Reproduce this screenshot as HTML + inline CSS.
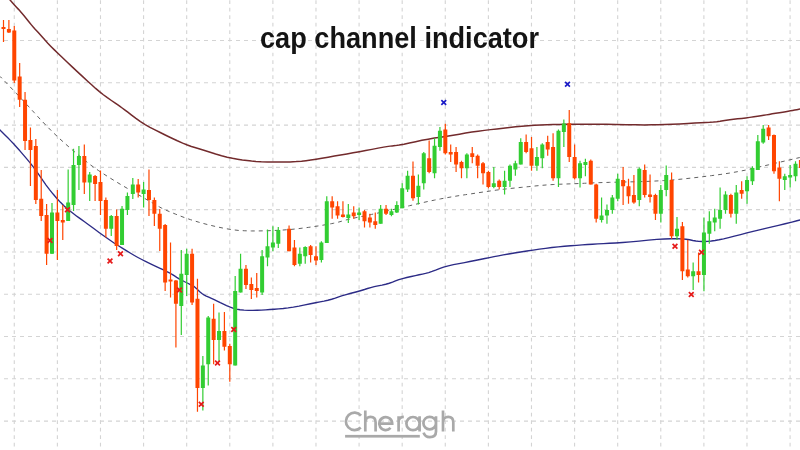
<!DOCTYPE html>
<html><head><meta charset="utf-8"><style>
html,body{margin:0;padding:0;background:#fff;}
body{width:800px;height:450px;overflow:hidden;position:relative;}
svg{position:absolute;left:0;top:0;filter:blur(0.5px);}
</style></head><body>
<svg width="800" height="450" viewBox="0 0 800 450">
<path d="M14.28,0V450M57.38,0V450M100.48,0V450M143.58,0V450M186.68,0V450M229.78,0V450M272.88,0V450M315.98,0V450M359.08,0V450M402.18,0V450M445.28,0V450M488.38,0V450M531.48,0V450M574.58,0V450M617.68,0V450M660.78,0V450M703.88,0V450M746.98,0V450M790.08,0V450" stroke="#d4d4d4" stroke-width="1.1" stroke-dasharray="3.75 3.75" stroke-dashoffset="7.375" fill="none"/>
<path d="M0,40.50H800M0,82.79H800M0,125.08H800M0,167.37H800M0,209.66H800M0,251.95H800M0,294.24H800M0,336.53H800M0,378.82H800M0,421.11H800" stroke="#d4d4d4" stroke-width="1.1" stroke-dasharray="4 4" stroke-dashoffset="4" fill="none"/>
<path d="M-1.00,75.50 L-0.86,75.62 L-0.58,75.88 L-0.16,76.25 L0.41,76.75 L2.31,78.69 L5.56,82.06 L10.16,86.88 L16.09,93.12 L22.11,99.53 L28.20,106.09 L34.38,112.81 L40.62,119.69 L46.88,126.25 L53.12,132.50 L59.38,138.44 L65.62,144.06 L71.88,149.53 L78.12,154.84 L84.38,160.00 L90.62,165.00 L98.81,170.78 L108.94,177.34 L121.00,184.69 L135.00,192.81 L146.06,199.22 L154.19,203.91 L159.38,206.88 L161.62,208.12 L165.11,209.77 L169.83,211.80 L175.78,214.22 L182.97,217.03 L190.62,219.69 L198.75,222.19 L207.34,224.53 L216.41,226.72 L224.69,228.44 L232.19,229.69 L238.91,230.47 L244.84,230.78 L251.41,230.94 L258.59,230.94 L266.41,230.78 L274.84,230.47 L282.73,230.04 L290.08,229.50 L296.88,228.84 L303.12,228.06 L308.75,227.33 L313.75,226.62 L318.12,225.96 L321.88,225.34 L325.31,224.75 L328.44,224.20 L331.25,223.69 L333.75,223.21 L336.25,222.66 L338.75,222.04 L341.25,221.34 L343.75,220.56 L347.34,219.63 L352.03,218.53 L357.81,217.28 L364.69,215.87 L371.41,214.45 L377.97,213.03 L384.38,211.59 L390.62,210.16 L396.88,208.70 L403.12,207.23 L409.38,205.75 L415.62,204.25 L421.88,202.81 L428.12,201.44 L434.38,200.12 L440.62,198.88 L446.88,197.70 L453.12,196.61 L459.38,195.59 L465.62,194.66 L471.88,193.72 L478.12,192.78 L484.38,191.84 L490.62,190.91 L496.88,190.05 L503.12,189.27 L509.38,188.56 L515.62,187.94 L521.88,187.31 L528.12,186.69 L534.38,186.06 L540.62,185.44 L546.88,184.92 L553.12,184.52 L559.38,184.22 L565.62,184.03 L571.88,183.81 L578.12,183.56 L584.38,183.28 L590.62,182.97 L599.06,182.66 L609.69,182.34 L622.50,182.03 L637.50,181.72 L651.09,181.25 L663.28,180.62 L674.06,179.84 L683.44,178.91 L692.81,177.89 L702.19,176.80 L711.56,175.62 L720.94,174.38 L729.69,173.05 L737.81,171.64 L745.31,170.16 L752.19,168.59 L759.81,166.84 L768.19,164.91 L777.31,162.78 L787.19,160.47 L794.59,158.73 L799.53,157.58 L802.00,157.00" stroke="#606060" stroke-width="1" stroke-dasharray="4 4" fill="none"/>
<path d="M7.50,-3.00 L7.66,-2.81 L7.97,-2.44 L8.44,-1.88 L9.06,-1.12 L9.69,-0.39 L10.31,0.33 L10.94,1.03 L11.56,1.72 L12.66,2.92 L14.22,4.64 L16.25,6.88 L18.75,9.62 L21.28,12.52 L23.84,15.55 L26.44,18.72 L29.06,22.03 L31.39,24.89 L33.42,27.30 L35.16,29.25 L36.59,30.75 L38.30,32.59 L40.27,34.76 L42.50,37.28 L45.00,40.12 L47.81,43.17 L50.94,46.42 L54.38,49.87 L58.12,53.53 L62.34,57.58 L67.03,62.02 L72.19,66.88 L77.81,72.12 L82.97,76.91 L87.66,81.22 L91.88,85.06 L95.62,88.44 L99.45,91.67 L103.36,94.76 L107.34,97.70 L111.41,100.50 L114.92,102.93 L117.89,104.99 L120.31,106.69 L122.19,108.01 L124.69,109.85 L127.81,112.20 L131.56,115.06 L135.94,118.44 L140.47,121.61 L145.16,124.58 L150.00,127.34 L155.00,129.91 L160.23,132.53 L165.70,135.22 L171.41,137.97 L177.34,140.78 L182.66,143.14 L187.34,145.05 L191.41,146.50 L194.84,147.50 L198.98,148.75 L203.83,150.25 L209.38,152.00 L215.62,154.00 L221.56,155.72 L227.19,157.16 L232.50,158.31 L237.50,159.19 L242.34,159.94 L247.03,160.56 L251.56,161.06 L255.94,161.44 L261.25,161.72 L267.50,161.91 L274.69,162.00 L282.81,162.00 L290.00,161.88 L296.25,161.62 L301.56,161.25 L305.94,160.75 L310.78,160.09 L316.09,159.28 L321.88,158.31 L328.12,157.19 L334.38,156.08 L340.62,154.98 L346.88,153.91 L353.12,152.84 L359.38,151.73 L365.62,150.58 L371.88,149.38 L378.12,148.12 L383.59,147.12 L388.28,146.38 L392.19,145.88 L395.31,145.62 L399.22,145.08 L403.91,144.23 L409.38,143.09 L415.62,141.66 L421.88,140.34 L428.12,139.16 L434.38,138.09 L440.62,137.16 L446.88,136.19 L453.12,135.19 L459.38,134.16 L465.62,133.09 L471.88,132.11 L478.12,131.20 L484.38,130.38 L490.62,129.62 L496.88,128.89 L503.12,128.18 L509.38,127.49 L515.62,126.81 L521.88,126.23 L528.12,125.74 L534.38,125.35 L540.62,125.05 L546.88,124.80 L553.12,124.60 L559.38,124.45 L565.62,124.35 L571.88,124.28 L578.12,124.23 L584.38,124.20 L590.62,124.20 L597.97,124.25 L606.41,124.35 L615.94,124.50 L626.56,124.70 L636.09,124.82 L644.53,124.88 L651.88,124.85 L658.12,124.75 L664.84,124.56 L672.03,124.29 L679.69,123.92 L687.81,123.47 L694.88,123.09 L700.89,122.76 L705.85,122.50 L709.75,122.30 L713.42,122.02 L716.86,121.66 L720.06,121.21 L723.04,120.69 L726.28,120.19 L729.80,119.71 L733.59,119.26 L737.66,118.84 L741.72,118.38 L745.78,117.89 L749.84,117.38 L753.91,116.82 L757.58,116.30 L760.86,115.80 L763.75,115.32 L766.25,114.88 L769.06,114.39 L772.19,113.86 L775.62,113.30 L779.38,112.70 L782.73,112.16 L785.70,111.67 L788.28,111.24 L790.47,110.86 L792.62,110.47 L794.75,110.08 L796.84,109.66 L798.91,109.24 L800.45,108.92 L801.48,108.71 L802.00,108.60" stroke="#722a2c" stroke-width="1.5" fill="none"/>
<path d="M-2.00,128.00 L-1.88,128.12 L-1.62,128.38 L-1.25,128.75 L-0.75,129.25 L0.41,130.41 L2.22,132.22 L4.69,134.69 L7.81,137.81 L10.78,140.86 L13.59,143.83 L16.25,146.72 L18.75,149.53 L21.41,152.58 L24.22,155.86 L27.19,159.38 L30.31,163.12 L33.44,167.11 L36.56,171.33 L39.69,175.78 L42.81,180.47 L46.09,185.08 L49.53,189.61 L53.12,194.06 L56.88,198.44 L60.47,202.34 L63.91,205.78 L67.19,208.75 L70.31,211.25 L73.28,213.56 L76.09,215.69 L78.75,217.62 L81.25,219.38 L84.53,221.73 L88.59,224.70 L93.44,228.28 L99.06,232.47 L104.38,236.31 L109.38,239.81 L114.06,242.97 L118.44,245.78 L122.66,248.44 L126.72,250.94 L130.62,253.28 L134.38,255.47 L137.94,257.47 L141.31,259.28 L144.50,260.91 L147.50,262.34 L150.56,263.80 L153.69,265.28 L156.88,266.79 L160.12,268.31 L162.95,269.65 L165.36,270.81 L167.34,271.78 L168.91,272.57 L170.62,273.52 L172.50,274.63 L174.53,275.91 L176.72,277.34 L179.14,278.80 L181.80,280.27 L184.69,281.75 L187.81,283.25 L190.38,284.53 L192.38,285.59 L193.81,286.44 L194.69,287.06 L195.75,287.93 L197.00,289.04 L198.44,290.40 L200.06,292.00 L201.91,293.47 L203.97,294.82 L206.25,296.03 L208.75,297.12 L211.41,298.33 L214.22,299.65 L217.19,301.09 L220.31,302.66 L223.44,304.14 L226.56,305.55 L229.69,306.88 L232.81,308.12 L236.25,309.09 L240.00,309.78 L244.06,310.19 L248.44,310.31 L252.78,310.34 L257.09,310.26 L261.38,310.09 L265.62,309.81 L269.94,309.52 L274.31,309.21 L278.75,308.88 L283.25,308.52 L288.12,307.95 L293.38,307.15 L299.00,306.12 L305.00,304.88 L310.50,303.75 L315.50,302.75 L320.00,301.88 L324.00,301.12 L327.88,300.25 L331.62,299.25 L335.25,298.12 L338.75,296.88 L342.38,295.69 L346.12,294.56 L350.00,293.50 L354.00,292.50 L357.75,291.50 L361.25,290.50 L364.50,289.50 L367.50,288.50 L370.75,287.56 L374.25,286.69 L378.00,285.88 L382.00,285.12 L385.75,284.25 L389.25,283.25 L392.50,282.12 L395.50,280.88 L398.88,279.69 L402.62,278.56 L406.75,277.50 L411.25,276.50 L415.38,275.59 L419.12,274.78 L422.50,274.06 L425.50,273.44 L428.69,272.58 L432.06,271.48 L435.62,270.16 L439.38,268.59 L443.59,267.16 L448.28,265.84 L453.44,264.66 L459.06,263.59 L464.53,262.55 L469.84,261.52 L475.00,260.50 L480.00,259.50 L484.84,258.53 L489.53,257.59 L494.06,256.69 L498.44,255.81 L503.28,254.91 L508.59,253.97 L514.38,253.00 L520.62,252.00 L526.88,251.03 L533.12,250.09 L539.38,249.19 L545.62,248.31 L551.88,247.53 L558.12,246.84 L564.38,246.25 L570.62,245.75 L576.56,245.30 L582.19,244.89 L587.50,244.53 L592.50,244.22 L597.81,243.91 L603.44,243.59 L609.38,243.28 L615.62,242.97 L622.66,242.50 L630.47,241.88 L639.06,241.09 L648.44,240.16 L656.88,239.45 L664.38,238.98 L670.94,238.75 L676.56,238.75 L681.56,238.92 L685.94,239.27 L689.69,239.78 L692.81,240.47 L695.88,240.98 L698.88,241.33 L701.81,241.50 L704.69,241.50 L707.84,241.33 L711.28,240.98 L715.00,240.47 L719.00,239.78 L723.56,238.84 L728.69,237.66 L734.38,236.22 L740.62,234.53 L746.88,232.91 L753.12,231.34 L759.38,229.84 L765.62,228.41 L772.00,226.91 L778.50,225.34 L785.12,223.72 L791.88,222.03 L796.94,220.77 L800.31,219.92 L802.00,219.50" stroke="#2c2b86" stroke-width="1.35" fill="none"/>
<path d="M3.50,20.00V42.00M8.89,20.00V33.00M14.28,26.00V83.00M19.66,63.00V107.00M25.05,92.00V150.00M30.44,127.50V186.00M35.83,139.00V204.00M41.22,170.00V221.00M46.60,204.00V265.00M57.38,190.00V260.00M62.77,205.00V240.00M84.32,144.50V194.00M95.10,175.00V201.00M100.48,170.50V215.00M105.87,197.50V237.50M116.65,209.50V250.00M138.20,179.00V197.50M148.98,169.50V216.00M154.36,197.50V226.00M159.75,209.00V251.00M165.14,224.00V291.00M170.53,242.50V297.50M175.92,280.00V347.50M192.08,248.75V305.00M197.47,278.75V411.75M213.63,303.75V364.25M224.41,312.00V350.50M229.80,343.75V381.75M245.96,265.00V289.00M251.35,277.50V299.00M256.74,273.00V297.50M289.06,225.60V251.25M294.45,240.00V266.25M310.62,245.00V262.50M316.00,246.25V265.00M332.17,196.25V218.75M337.56,201.25V218.75M342.94,201.25V217.50M353.72,206.25V218.75M364.50,210.00V227.50M369.88,213.75V227.50M375.27,212.50V228.75M386.05,205.00V215.00M412.99,161.50V200.75M429.15,140.50V173.25M445.32,123.75V154.50M450.70,144.50V162.00M456.09,147.00V172.00M461.48,160.75V178.25M472.26,147.00V163.25M477.64,154.50V178.25M483.03,162.00V184.50M488.42,170.75V188.25M499.20,179.50V189.50M526.14,134.50V153.25M531.52,137.00V170.75M547.69,135.75V155.75M553.08,133.25V180.75M569.24,110.00V162.00M574.63,144.50V179.50M590.79,159.50V184.50M596.18,183.75V222.50M623.12,167.00V205.00M628.51,178.75V203.75M633.90,175.00V203.75M644.67,164.50V197.50M650.06,174.50V202.50M655.45,193.75V220.00M671.61,172.50V238.75M682.39,222.00V280.00M687.78,240.00V277.50M698.55,252.50V282.50M730.88,193.75V217.50M741.66,181.25V198.75M768.60,125.00V140.00M773.98,134.50V173.75M779.37,161.25V201.25M800.92,155.00V172.00" stroke="#ff4500" stroke-width="1.2" fill="none"/>
<path d="M51.99,203.00V254.00M68.16,169.50V221.00M73.54,148.75V211.00M78.93,146.00V190.00M89.71,172.00V201.00M111.26,215.00V236.00M122.04,206.00V245.00M127.42,192.50V215.00M132.81,178.00V199.00M143.59,182.00V207.50M181.30,250.00V335.00M186.69,248.75V296.00M202.86,356.00V410.50M208.24,316.00V385.50M219.02,312.50V361.75M235.18,276.00V365.50M240.57,253.75V292.50M262.12,250.00V295.00M267.51,229.40V266.25M272.90,226.25V251.25M278.29,227.00V248.00M299.84,247.50V266.25M305.23,246.25V263.75M321.39,241.25V262.50M326.78,196.25V243.00M348.33,204.00V223.00M359.11,207.50V220.00M380.66,205.00V223.75M391.44,208.75V216.25M396.82,201.25V213.00M402.21,183.25V208.25M407.60,170.75V192.00M418.38,174.50V204.50M423.76,152.00V189.50M434.54,138.25V178.25M439.93,127.00V150.75M466.87,153.25V178.25M493.81,167.00V188.25M504.58,170.75V194.50M509.97,164.50V187.00M515.36,160.75V175.75M520.75,138.25V164.50M536.91,147.00V170.75M542.30,143.25V168.25M558.46,129.50V187.00M563.85,119.40V147.00M580.02,160.75V187.50M585.40,158.75V176.25M601.57,197.50V222.50M606.96,204.50V223.75M612.34,195.00V213.75M617.73,173.75V201.25M639.28,167.50V206.25M660.84,185.00V222.50M666.22,165.50V196.25M677.00,217.00V240.00M693.16,262.50V290.00M703.94,217.50V291.25M709.33,211.25V243.75M714.72,208.75V231.25M720.10,187.50V228.75M725.49,191.25V213.75M736.27,185.00V223.75M747.04,176.25V203.75M752.43,166.25V185.00M757.82,135.00V170.00M763.21,125.00V143.75M784.76,173.75V190.00M790.15,165.00V187.50M795.54,161.25V181.25" stroke="#32cd32" stroke-width="1.2" fill="none"/>
<path d="M1.50,27.00h4.0V29.00h-4.0zM6.89,29.00h4.0V32.50h-4.0zM12.28,30.60h4.0V80.40h-4.0zM17.66,76.60h4.0V99.75h-4.0zM23.05,99.75h4.0V141.00h-4.0zM28.44,140.00h4.0V150.00h-4.0zM33.83,146.00h4.0V200.00h-4.0zM39.22,198.75h4.0V216.00h-4.0zM44.60,215.00h4.0V253.75h-4.0zM55.38,212.50h4.0V221.00h-4.0zM60.77,220.00h4.0V222.50h-4.0zM82.32,156.00h4.0V182.50h-4.0zM93.10,176.00h4.0V184.00h-4.0zM98.48,182.00h4.0V201.00h-4.0zM103.87,200.00h4.0V228.75h-4.0zM114.65,216.00h4.0V246.00h-4.0zM136.20,184.50h4.0V192.50h-4.0zM146.98,190.00h4.0V200.00h-4.0zM152.36,200.00h4.0V213.75h-4.0zM157.75,213.75h4.0V228.75h-4.0zM163.14,225.00h4.0V282.50h-4.0zM168.53,279.50h4.0V281.50h-4.0zM173.92,280.50h4.0V303.75h-4.0zM190.08,253.75h4.0V302.50h-4.0zM195.47,298.75h4.0V388.00h-4.0zM211.63,318.75h4.0V340.00h-4.0zM222.41,331.00h4.0V346.75h-4.0zM227.80,346.00h4.0V364.25h-4.0zM243.96,268.75h4.0V285.00h-4.0zM249.35,284.00h4.0V290.00h-4.0zM254.74,288.00h4.0V291.00h-4.0zM287.06,228.75h4.0V251.25h-4.0zM292.45,247.50h4.0V265.00h-4.0zM308.62,246.25h4.0V255.00h-4.0zM314.00,256.25h4.0V260.50h-4.0zM330.17,201.25h4.0V207.50h-4.0zM335.56,206.25h4.0V215.60h-4.0zM340.94,214.40h4.0V216.90h-4.0zM351.72,212.50h4.0V216.25h-4.0zM362.50,211.25h4.0V221.25h-4.0zM367.88,217.50h4.0V222.50h-4.0zM373.27,221.25h4.0V225.00h-4.0zM384.05,208.75h4.0V213.75h-4.0zM410.99,175.75h4.0V198.25h-4.0zM427.15,158.25h4.0V172.00h-4.0zM443.32,129.50h4.0V153.25h-4.0zM448.70,152.00h4.0V154.50h-4.0zM454.09,152.00h4.0V164.50h-4.0zM459.48,162.00h4.0V168.25h-4.0zM470.26,153.25h4.0V157.00h-4.0zM475.64,155.75h4.0V165.75h-4.0zM481.03,163.25h4.0V173.25h-4.0zM486.42,172.00h4.0V187.00h-4.0zM497.20,180.75h4.0V187.00h-4.0zM524.14,142.00h4.0V152.00h-4.0zM529.52,148.25h4.0V165.75h-4.0zM545.69,142.00h4.0V149.50h-4.0zM551.08,147.00h4.0V178.25h-4.0zM567.24,123.25h4.0V157.00h-4.0zM572.63,157.00h4.0V178.25h-4.0zM588.79,160.75h4.0V184.50h-4.0zM594.18,184.50h4.0V218.75h-4.0zM621.12,180.00h4.0V186.25h-4.0zM626.51,186.25h4.0V196.25h-4.0zM631.90,195.00h4.0V202.50h-4.0zM642.67,170.00h4.0V195.00h-4.0zM648.06,194.50h4.0V197.00h-4.0zM653.45,195.00h4.0V213.75h-4.0zM669.61,180.00h4.0V236.25h-4.0zM680.39,226.25h4.0V271.25h-4.0zM685.78,269.50h4.0V276.25h-4.0zM696.55,271.25h4.0V275.00h-4.0zM728.88,195.00h4.0V213.75h-4.0zM739.66,190.00h4.0V193.75h-4.0zM766.60,127.50h4.0V136.25h-4.0zM771.98,135.00h4.0V171.25h-4.0zM777.37,167.50h4.0V178.75h-4.0zM798.92,160.00h4.0V168.00h-4.0z" fill="#ff4500"/>
<path d="M49.99,212.50h4.0V253.75h-4.0zM66.16,202.50h4.0V221.00h-4.0zM71.54,165.00h4.0V205.00h-4.0zM76.93,156.00h4.0V165.00h-4.0zM87.71,174.50h4.0V182.50h-4.0zM109.26,216.00h4.0V228.75h-4.0zM120.04,208.75h4.0V245.00h-4.0zM125.42,196.00h4.0V210.00h-4.0zM130.81,184.50h4.0V194.00h-4.0zM141.59,189.50h4.0V194.00h-4.0zM179.30,273.75h4.0V306.00h-4.0zM184.69,253.75h4.0V275.00h-4.0zM200.86,365.50h4.0V388.00h-4.0zM206.24,317.50h4.0V364.25h-4.0zM217.02,331.00h4.0V340.00h-4.0zM233.18,291.00h4.0V365.50h-4.0zM238.57,268.75h4.0V292.50h-4.0zM260.12,256.25h4.0V292.50h-4.0zM265.51,246.25h4.0V257.50h-4.0zM270.90,242.50h4.0V247.50h-4.0zM276.29,230.00h4.0V243.75h-4.0zM297.84,253.75h4.0V263.75h-4.0zM303.23,247.00h4.0V256.25h-4.0zM319.39,242.50h4.0V260.00h-4.0zM324.78,201.25h4.0V243.00h-4.0zM346.33,214.40h4.0V218.00h-4.0zM357.11,212.50h4.0V215.00h-4.0zM378.66,208.75h4.0V223.75h-4.0zM389.44,211.25h4.0V215.00h-4.0zM394.82,205.00h4.0V212.50h-4.0zM400.21,188.25h4.0V208.25h-4.0zM405.60,175.75h4.0V189.50h-4.0zM416.38,185.75h4.0V197.00h-4.0zM421.76,153.25h4.0V183.25h-4.0zM432.54,145.75h4.0V173.25h-4.0zM437.93,130.75h4.0V147.00h-4.0zM464.87,154.50h4.0V168.25h-4.0zM491.81,183.25h4.0V187.00h-4.0zM502.58,180.75h4.0V187.00h-4.0zM507.97,165.75h4.0V180.75h-4.0zM513.36,163.25h4.0V169.50h-4.0zM518.75,142.00h4.0V164.50h-4.0zM534.91,157.00h4.0V165.75h-4.0zM540.30,144.50h4.0V158.25h-4.0zM556.46,130.75h4.0V178.25h-4.0zM561.85,123.50h4.0V132.00h-4.0zM578.02,163.25h4.0V178.25h-4.0zM583.40,162.00h4.0V165.00h-4.0zM599.57,215.50h4.0V220.00h-4.0zM604.96,210.00h4.0V215.50h-4.0zM610.34,197.50h4.0V210.00h-4.0zM615.73,178.75h4.0V198.75h-4.0zM637.28,168.75h4.0V200.00h-4.0zM658.84,190.00h4.0V213.75h-4.0zM664.22,175.00h4.0V190.00h-4.0zM675.00,228.75h4.0V236.25h-4.0zM691.16,271.25h4.0V276.25h-4.0zM701.94,232.50h4.0V275.00h-4.0zM707.33,221.25h4.0V233.75h-4.0zM712.72,217.50h4.0V222.50h-4.0zM718.10,210.00h4.0V218.75h-4.0zM723.49,194.50h4.0V210.00h-4.0zM734.27,192.50h4.0V213.75h-4.0zM745.04,180.00h4.0V191.25h-4.0zM750.43,168.00h4.0V181.25h-4.0zM755.82,141.25h4.0V170.00h-4.0zM761.21,128.75h4.0V142.50h-4.0zM782.76,176.25h4.0V180.00h-4.0zM788.15,175.00h4.0V177.50h-4.0zM793.54,163.75h4.0V176.25h-4.0z" fill="#32cd32"/>
<path d="M65.10,207.40L69.90,212.20M69.90,207.40L65.10,212.20" stroke="#e61a1a" stroke-width="1.7" fill="none"/>
<path d="M47.60,238.10L52.40,242.90M52.40,238.10L47.60,242.90" stroke="#e61a1a" stroke-width="1.7" fill="none"/>
<path d="M107.60,258.60L112.40,263.40M112.40,258.60L107.60,263.40" stroke="#e61a1a" stroke-width="1.7" fill="none"/>
<path d="M118.10,251.35L122.90,256.15M122.90,251.35L118.10,256.15" stroke="#e61a1a" stroke-width="1.7" fill="none"/>
<path d="M177.10,287.60L181.90,292.40M181.90,287.60L177.10,292.40" stroke="#e61a1a" stroke-width="1.7" fill="none"/>
<path d="M198.85,401.85L203.65,406.65M203.65,401.85L198.85,406.65" stroke="#e61a1a" stroke-width="1.7" fill="none"/>
<path d="M215.10,360.60L219.90,365.40M219.90,360.60L215.10,365.40" stroke="#e61a1a" stroke-width="1.7" fill="none"/>
<path d="M231.35,327.10L236.15,331.90M236.15,327.10L231.35,331.90" stroke="#e61a1a" stroke-width="1.7" fill="none"/>
<path d="M672.60,243.85L677.40,248.65M677.40,243.85L672.60,248.65" stroke="#e61a1a" stroke-width="1.7" fill="none"/>
<path d="M699.10,249.80L703.90,254.60M703.90,249.80L699.10,254.60" stroke="#e61a1a" stroke-width="1.7" fill="none"/>
<path d="M688.85,292.10L693.65,296.90M693.65,292.10L688.85,296.90" stroke="#e61a1a" stroke-width="1.7" fill="none"/>
<path d="M441.35,100.10L446.15,104.90M446.15,100.10L441.35,104.90" stroke="#1c1cc8" stroke-width="1.7" fill="none"/>
<path d="M565.10,81.85L569.90,86.65M569.90,81.85L565.10,86.65" stroke="#1c1cc8" stroke-width="1.7" fill="none"/>
<text x="260" y="47.8" textLength="279" lengthAdjust="spacingAndGlyphs" font-family="Liberation Sans, sans-serif" font-weight="bold" font-size="30" fill="#141414">cap channel indicator</text>
<path d="M361.07,415.58 A8.7,8.7 0 1 0 360.75,427.55 M365.3,410.4 V431.4 M365.3,422.5 C365.3,418.6 367.8,416.9 370.5,416.9 C373.4,416.9 375.6,418.6 375.6,422.3 V431.4 M379.2,423.6 H392.2 A6.5,6.5 0 1 0 390.53,427.95 M398.6,416.2 V431.4 M398.6,421.8 C398.6,418.3 400.8,416.9 403.8,416.9 M419.6,416.2 V431.4 M419.6,423.6 A6.6,6.6 0 1 0 406.4,423.6 A6.6,6.6 0 1 0 419.6,423.6 M436.0,416.2 V431.5 C436.0,435.6 433.5,437.1 429.8,437.1 C426.6,437.1 424.4,435.4 423.6,432.6 M436.0,423.1 A6.3,6.3 0 1 0 423.4,423.1 A6.3,6.3 0 1 0 436.0,423.1 M443.0,410.4 V431.4 M443.0,422.5 C443.0,418.6 445.5,416.9 448.2,416.9 C451.1,416.9 453.3,418.6 453.3,422.3 V431.4" stroke="#a9a9a9" stroke-width="2.7" fill="none"/>
<rect x="345.1" y="434.9" width="74.7" height="2.7" fill="#a9a9a9"/>
</svg>

</body></html>
